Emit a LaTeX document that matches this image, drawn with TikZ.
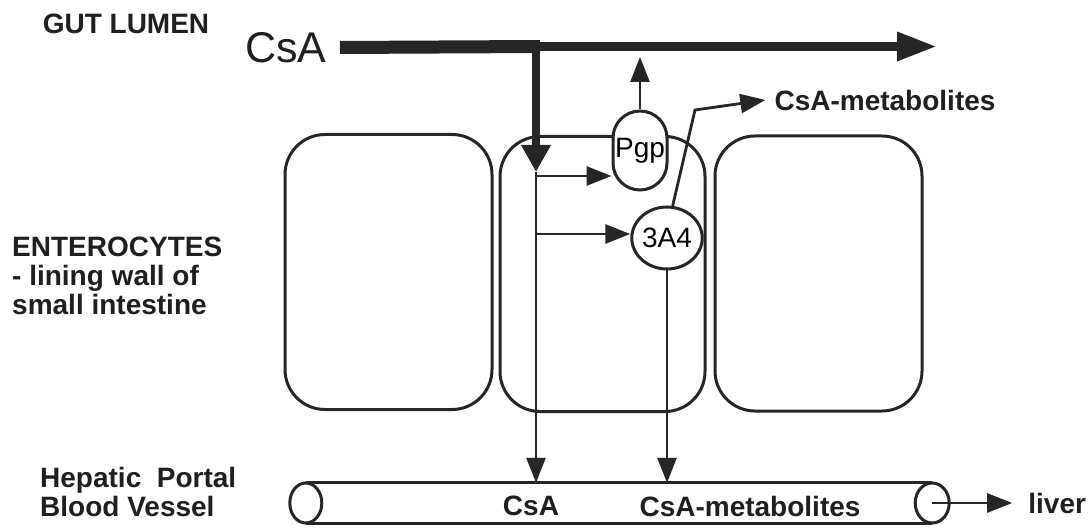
\documentclass[tikz,border=0pt]{standalone}
\usepackage{fontspec}
\setmainfont{Liberation Sans}
\usepackage{tikz}
\usetikzlibrary{arrows.meta,positioning,shapes.geometric}

\begin{document}
\begin{tikzpicture}[
  x=1pt, y=-1pt,
  txt/.style={inner sep=0pt, text=black!88, font=\fontsize{28}{29}\selectfont},
  btxt/.style={txt, font=\bfseries\fontsize{28}{29}\selectfont, align=left},
  cell/.style={draw=black!85, line width=3pt, rounded corners=40pt, minimum height=275pt},
  pump/.style={draw=black!85, line width=3pt, fill=white, rounded corners=27pt, minimum width=54pt, minimum height=79pt, inner sep=0pt, font=\fontsize{28}{29}\selectfont},
  enzyme/.style={draw=black!85, line width=3pt, fill=white, ellipse, minimum width=70pt, minimum height=62pt, inner sep=0pt, font=\fontsize{28}{29}\selectfont},
  tube/.style={draw=black!85, line width=3pt},
  arrow/.style={draw=black!85, line width=2.8pt, -{Triangle[length=25pt,width=19pt]}}
]
\useasboundingbox (0,0) rectangle (1089,529);

% enterocytes
\node[cell, minimum width=207pt] (cellL) at (388.5,272) {};
\node[cell, minimum width=205pt] (cellM) at (602.5,274) {};
\node[cell, minimum width=207pt] (cellR) at (818.5,273.5) {};

\node[pump] (pgp) at (640,150.5) {Pgp};
\node[enzyme] (cyp) at (667,238) {3A4};

% blood vessel
\node[minimum width=626pt, minimum height=40pt, inner sep=0pt] (vessel) at (619,503) {};
\draw[tube] (vessel.north west) -- (vessel.north east) (vessel.south west) -- (vessel.south east);
\draw[tube] (vessel.west) ellipse[x radius=16pt, y radius=20pt];
\draw[tube] (vessel.east) ellipse[x radius=17pt, y radius=20pt];

% labels
\node[btxt] (lumen) at (126,24) {GUT LUMEN};
\node[btxt, anchor=west] (entero) at (12,276) {ENTEROCYTES\\- lining wall of\\small intestine};
\node[btxt, anchor=west] (hepatic) at (40,492) {Hepatic\ \ Portal\\Blood Vessel};
\node[txt, font=\fontsize{43}{43}\selectfont] (csa) at (286,47.5) {CsA};
\node[btxt] (metab) at (885,100) {CsA-metabolites};
\node[btxt] (vcsa) at (531,506) {CsA};
\node[btxt] (vmetab) at (750,506) {CsA-metabolites};
\node[btxt, right=96pt of vessel.east] (liver) {liver};

\coordinate (split) at (536,46.5);
\coordinate (lumtip) at (937,46.5);
\coordinate (entry) at (536,172);
\coordinate (in1) at (536,176);
\coordinate (in2) at (536,234);
\coordinate (kink) at (695,110);
\coordinate (uptip) at (640,57);

% CsA flow
\draw[black!85, line width=13pt] ([xshift=13pt]csa.east) -- ([xshift=4pt]split);
\draw[black!85, line width=9pt, -{Triangle[length=40pt,width=27pt]}] (split) -- (lumtip);
\draw[black!85, line width=8pt, -{Triangle[length=27pt,width=28pt]}] (split) -- (entry);
\draw[arrow] (entry) -- (entry |- vessel.north);
\draw[arrow] (in1) -- (in1 -| pgp.west);
\draw[arrow] (in2) -- (in2 -| cyp.west);
\draw[arrow] (pgp.north) -- (uptip);
\draw[arrow] (cyp.80) -- (kink) -- ([xshift=-9pt]metab.west);
\draw[arrow] (cyp.south) -- (cyp.south |- vessel.north);
\draw[arrow, shorten >=16pt] (vessel.east) -- (liver);
\end{tikzpicture}
\end{document}
